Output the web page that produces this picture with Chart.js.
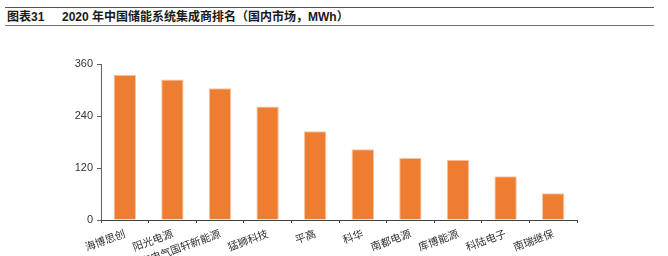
<!DOCTYPE html>
<html>
<head>
<meta charset="utf-8">
<script src="https://cdn.jsdelivr.net/npm/chart.js@4.4.0/dist/chart.umd.min.js"></script>
<style>
  html, body { margin: 0; padding: 0; background: #fff; }
  #wrap { position: relative; width: 668px; height: 256px; overflow: hidden; }
  #title {
    position: absolute; left: 5px; top: 7px; width: 649px; height: 17px;
    border-top: 1.5px solid #555; border-bottom: 1.5px solid #777;
    font-family: "Liberation Sans", Arial, "Noto Sans CJK SC", sans-serif;
    font-weight: bold; font-size: 12px; color: #1a1a1a; line-height: 17px;
    white-space: pre; box-sizing: content-box;
  }
  #title span { position: absolute; top: 1px; }
  canvas { position: absolute; left: 0; top: 0; }
</style>
</head>
<body>
<div id="wrap">
  <div id="title"><span style="left:2px">图表31</span><span style="left:57px">2020 年中国储能系统集成商排名（国内市场，MWh）</span></div>
  <canvas id="c" width="668" height="256"></canvas>
</div>
<script>
const categories = ["海博思创", "阳光电源", "上海电气国轩新能源", "猛狮科技", "平高", "科华", "南都电源", "库博能源", "科陆电子", "南瑞继保"];
const capacity = [335, 324, 304, 262, 205, 163, 143, 139, 101, 62];
const yTicks = [0, 120, 240, 360];

const ctx = document.getElementById('c');
new Chart(ctx, {
  type: 'bar',
  data: {
    labels: categories,
    datasets: [{
      data: capacity,
      backgroundColor: '#ED7D31',
      borderColor: '#F7C4A0',
      borderWidth: 1,
      categoryPercentage: 1,
      barPercentage: 0.47
    }]
  },
  options: {
    responsive: false,
    animation: false,
    events: [],
    layout: { padding: { top: 64, right: 91, left: 0, bottom: 0 } },
    plugins: { legend: { display: false }, title: { display: false }, tooltip: { enabled: false } },
    scales: {
      x: {
        grid: { display: true, drawOnChartArea: false, drawTicks: true, tickLength: 3, color: '#404040', lineWidth: 1, offset: true },
        border: { display: true, color: '#404040', width: 1 },
        ticks: {
          minRotation: 20, maxRotation: 20, autoSkip: false, padding: 4,
          color: '#333', font: { family: '"Noto Sans CJK SC", sans-serif', size: 10.5 }
        },
        afterFit: (s) => { s.height = 36; }
      },
      y: {
        min: 0, max: 360,
        afterBuildTicks: (s) => { s.ticks = yTicks.map(v => ({ value: v })); },
        grid: { display: true, drawOnChartArea: false, drawTicks: true, tickLength: 4, color: '#606060', lineWidth: 1 },
        border: { display: true, color: '#606060', width: 1 },
        ticks: {
          padding: 4, color: '#333',
          font: { family: '"Liberation Sans", Arial, sans-serif', size: 11 }
        },
        afterFit: (s) => { s.width = 101; }
      }
    }
  }
});
</script>
</body>
</html>
